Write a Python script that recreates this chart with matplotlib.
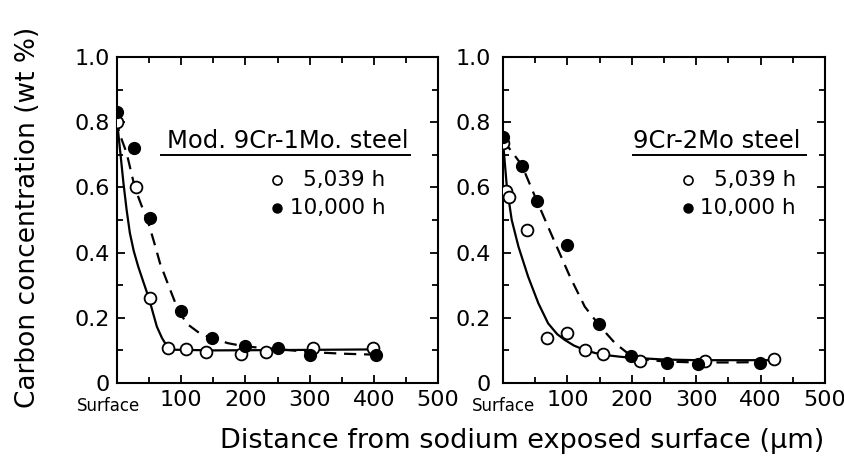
import matplotlib
matplotlib.use('Agg')
import matplotlib.pyplot as plt
import matplotlib.transforms as mtransforms
from matplotlib.ticker import MultipleLocator

plt.rcParams['font.family'] = ['DejaVu Sans']

# Mod. 9Cr-1Mo steel (left panel)
open_x_L = [0, 30, 51, 79, 108, 139, 193, 232, 305, 398]
open_y_L = [0.80, 0.60, 0.26, 0.108, 0.105, 0.096, 0.089, 0.096, 0.108, 0.108]
fill_x_L = [0, 27, 51, 99, 148, 199, 250, 301, 403]
fill_y_L = [0.832, 0.72, 0.505, 0.22, 0.139, 0.113, 0.106, 0.086, 0.085]
# fitted curves
solid_x_L = [0, 2, 6, 10, 15, 20, 26, 33, 41, 50, 56, 62, 70, 78, 90, 150, 250, 400]
solid_y_L = [0.80, 0.766, 0.69, 0.613, 0.53, 0.46, 0.405, 0.357, 0.31, 0.258, 0.215, 0.173, 0.138, 0.112, 0.102, 0.100, 0.101, 0.103]
dash_x_L = [0, 3, 15, 28, 38, 49, 58, 67, 80, 96, 110, 129, 148, 173, 200, 250, 300, 350, 400]
dash_y_L = [0.81, 0.77, 0.705, 0.597, 0.545, 0.49, 0.43, 0.367, 0.30, 0.219, 0.18, 0.152, 0.137, 0.122, 0.112, 0.104, 0.095, 0.09, 0.087]

# 9Cr-2Mo steel (right panel)
open_x_R = [0, 5, 10, 38, 69, 100, 128, 156, 212, 313, 421]
open_y_R = [0.735, 0.59, 0.571, 0.469, 0.137, 0.152, 0.101, 0.089, 0.068, 0.068, 0.073]
fill_x_R = [0, 29, 52, 100, 149, 198, 254, 303, 399]
fill_y_R = [0.755, 0.667, 0.558, 0.422, 0.181, 0.084, 0.060, 0.058, 0.060]
solid_x_R = [0, 3, 6, 13.5, 24, 39, 55, 70, 84, 96, 110, 127, 143, 158, 180, 195, 250, 300, 350, 420]
solid_y_R = [0.74, 0.67, 0.60, 0.50, 0.418, 0.326, 0.244, 0.183, 0.15, 0.132, 0.115, 0.101, 0.092, 0.086, 0.081, 0.078, 0.072, 0.07, 0.07, 0.07]
dash_x_R = [0, 29, 52, 81, 104, 127, 151, 174, 197, 220, 250, 300, 350, 400]
dash_y_R = [0.745, 0.669, 0.561, 0.429, 0.326, 0.234, 0.173, 0.122, 0.086, 0.072, 0.066, 0.063, 0.063, 0.064]

x_ticks = [0, 100, 200, 300, 400, 500]
x_labels = ['', '100', '200', '300', '400', '500']
y_ticks = [0, 0.2, 0.4, 0.6, 0.8, 1.0]
y_labels = ['0', '0.2', '0.4', '0.6', '0.8', '1.0']

fig = plt.figure(figsize=(8.45, 4.61), dpi=100)
axL = fig.add_axes([0.1385, 0.1692, 0.380, 0.7072])
axR = fig.add_axes([0.5953, 0.1692, 0.381, 0.7072])


def draw_panel(ax, ox, oy, fx, fy, sx, sy, dx, dy, surf_x):
    ax.plot(sx, sy, color='black', lw=1.6, zorder=2)
    d, = ax.plot(dx, dy, color='black', lw=1.6, zorder=2)
    d.set_dashes((5.5, 3.5))
    ax.plot(ox, oy, 'o', ms=8.5, mfc='white', mec='black', mew=1.3, zorder=3)
    ax.plot(fx, fy, 'o', ms=8.5, mfc='black', mec='black', zorder=3)
    ax.set_xlim(0, 500)
    ax.set_ylim(0, 1.0)
    ax.set_xticks(x_ticks)
    ax.set_xticklabels(x_labels)
    ax.set_yticks(y_ticks)
    ax.set_yticklabels(y_labels)
    ax.xaxis.set_minor_locator(MultipleLocator(50))
    ax.yaxis.set_minor_locator(MultipleLocator(0.1))
    ax.tick_params(which='both', direction='in', top=True, right=True, width=1.3)
    ax.tick_params(which='major', length=5.5, labelsize=16)
    ax.tick_params(which='minor', length=4)
    ax.tick_params(axis='x', pad=5)
    ax.tick_params(axis='y', pad=5)
    # "Surface" label at the zero position
    trans = mtransforms.blended_transform_factory(ax.transData, ax.transAxes)
    ax.text(surf_x, -0.07, 'Surface', transform=trans, ha='center', va='center', fontsize=12)
    for sp in ax.spines.values():
        sp.set_linewidth(1.5)


draw_panel(axL, open_x_L, open_y_L, fill_x_L, fill_y_L, solid_x_L, solid_y_L, dash_x_L, dash_y_L, -14)
draw_panel(axR, open_x_R, open_y_R, fill_x_R, fill_y_R, solid_x_R, solid_y_R, dash_x_R, dash_y_R, 1)
axR.tick_params(axis='y', pad=9)


def legend_box(ax, title, tx0, ul_x0, ul_x1, mx, txr):
    ax.text(tx0, 0.721, title, transform=ax.transAxes, fontsize=17.5, ha='left', va='baseline')
    ax.plot([ul_x0, ul_x1], [0.700, 0.700], transform=ax.transAxes, color='black', lw=1.4, clip_on=False)
    ax.plot([mx], [0.623], 'o', transform=ax.transAxes, ms=6.5, mfc='white', mec='black', mew=1.2)
    ax.plot([mx], [0.538], 'o', transform=ax.transAxes, ms=6.5, mfc='black', mec='black')
    ax.text(txr, 0.623, '5,039 h', transform=ax.transAxes, fontsize=15.5, ha='right', va='center')
    ax.text(txr, 0.538, '10,000 h', transform=ax.transAxes, fontsize=15.5, ha='right', va='center')


legend_box(axL, 'Mod. 9Cr-1Mo. steel', 0.156, 0.137, 0.913, 0.498, 0.835)
legend_box(axR, '9Cr-2Mo steel', 0.404, 0.404, 0.941, 0.575, 0.910)

fig.text(0.033, 0.529, 'Carbon concentration (wt %)', rotation=90, ha='center', va='center', fontsize=19)
fig.text(0.618, 0.043, 'Distance from sodium exposed surface (\u03bcm)', ha='center', va='center', fontsize=19.5)

fig.savefig('out.png', dpi=100)
